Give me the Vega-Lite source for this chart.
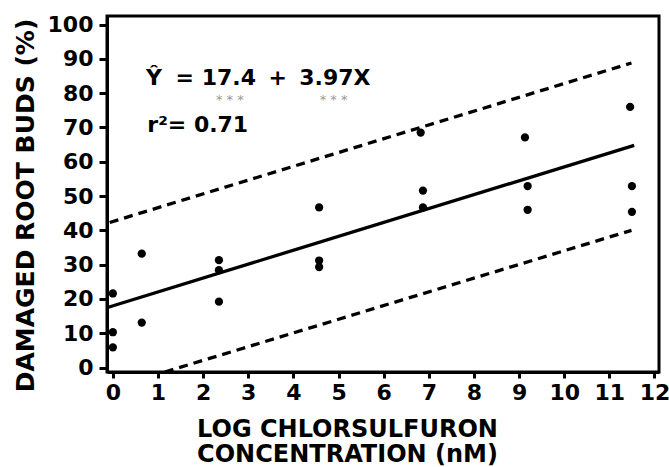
{
  "$schema": "https://vega.github.io/schema/vega-lite/v6.json",
  "autosize": "none",
  "padding": {"left": 107, "top": 16, "right": 10, "bottom": 95},
  "width": 552,
  "height": 356,
  "background": "white",
  "config": {
    "view": {"stroke": "black", "strokeWidth": 3},
    "axis": {
      "domainColor": "black", "domainWidth": 3,
      "tickColor": "black", "tickWidth": 3,
      "labelFont": "DejaVu Sans", "labelFontWeight": "bold", "labelFontSize": 22, "labelColor": "black",
      "titleFont": "DejaVu Sans", "titleFontWeight": "bold", "titleFontSize": 25, "titleColor": "black",
      "grid": false, "labelFlush": false, "labelOverlap": false
    }
  },
  "datasets": {
    "points": [
      {"x": 0, "y": 21.6}, {"x": 0, "y": 10.3}, {"x": 0, "y": 5.9},
      {"x": 0.64, "y": 33.2}, {"x": 0.64, "y": 13.1},
      {"x": 2.35, "y": 31.3}, {"x": 2.35, "y": 28.4}, {"x": 2.35, "y": 19.2},
      {"x": 4.57, "y": 46.7}, {"x": 4.57, "y": 31.2}, {"x": 4.57, "y": 29.3},
      {"x": 6.82, "y": 68.5}, {"x": 6.87, "y": 51.6}, {"x": 6.87, "y": 46.7},
      {"x": 9.13, "y": 67.1}, {"x": 9.19, "y": 52.9}, {"x": 9.19, "y": 46.0},
      {"x": 11.46, "y": 76.0}, {"x": 11.5, "y": 52.9}, {"x": 11.5, "y": 45.4}
    ],
    "fit": [
      {"x": -0.12, "y": 17.5}, {"x": 11.55, "y": 64.8}
    ],
    "bands": [
      {"band": "upper", "x": -0.07, "y": 42.3}, {"band": "upper", "x": 11.49, "y": 88.8},
      {"band": "lower", "x": 1.15, "y": -1.3}, {"band": "lower", "x": 11.49, "y": 40.0}
    ],
    "eq": [
      {"label": "Ŷ", "x": 0.91, "y": 82.4},
      {"label": "=", "x": 1.59, "y": 82.4},
      {"label": "17.4", "x": 2.57, "y": 82.4},
      {"label": "+", "x": 3.65, "y": 82.4},
      {"label": "3.97X", "x": 4.92, "y": 82.4},
      {"label": "r²= 0.71", "x": 1.88, "y": 68.7}
    ],
    "stars": [
      {"label": "*  *  *", "x": 2.59, "y": 78.0},
      {"label": "*  *  *", "x": 4.89, "y": 78.0}
    ]
  },
  "encoding": {
    "x": {
      "field": "x", "type": "quantitative",
      "scale": {"domain": [-0.13, 12.1], "nice": false, "zero": false},
      "axis": {
        "values": [0, 1, 2, 3, 4, 5, 6, 7, 8, 9, 10, 11, 12],
        "tickSize": 6, "labelPadding": 4,
        "title": ["LOG CHLORSULFURON", "CONCENTRATION (nM)"],
        "titleFontSize": 24,
        "titleX": 240, "titleY": 64, "titleAnchor": null, "titleAlign": "center",
        "titleBaseline": "alphabetic", "titleLineHeight": 25
      }
    },
    "y": {
      "field": "y", "type": "quantitative",
      "scale": {"domain": [-1.3, 102.5], "nice": false, "zero": false},
      "axis": {
        "values": [0, 10, 20, 30, 40, 50, 60, 70, 80, 90, 100],
        "tickSize": 8, "labelPadding": 6,
        "title": "DAMAGED ROOT BUDS (%)",
        "titleX": -74, "titleY": 189, "titleAlign": "center", "titleAngle": -90,
        "titleBaseline": "alphabetic"
      }
    }
  },
  "layer": [
    {
      "data": {"name": "bands"},
      "mark": {"type": "line", "color": "black", "strokeWidth": 3.3, "strokeDash": [9, 6], "clip": true},
      "encoding": {"detail": {"field": "band"}}
    },
    {
      "data": {"name": "fit"},
      "mark": {"type": "line", "color": "black", "strokeWidth": 3.3, "clip": true},
      "encoding": {}
    },
    {
      "data": {"name": "points"},
      "mark": {"type": "circle", "color": "black", "opacity": 1, "size": 68}
    },
    {
      "data": {"name": "eq"},
      "mark": {"type": "text", "font": "DejaVu Sans", "fontWeight": "bold", "fontSize": 22, "color": "black", "align": "center", "baseline": "alphabetic"},
      "encoding": {"text": {"field": "label"}}
    },
    {
      "data": {"name": "stars"},
      "mark": {"type": "text", "font": "DejaVu Sans", "fontSize": 13, "color": "#999999", "align": "center", "baseline": "middle"},
      "encoding": {"text": {"field": "label"}}
    }
  ]
}
